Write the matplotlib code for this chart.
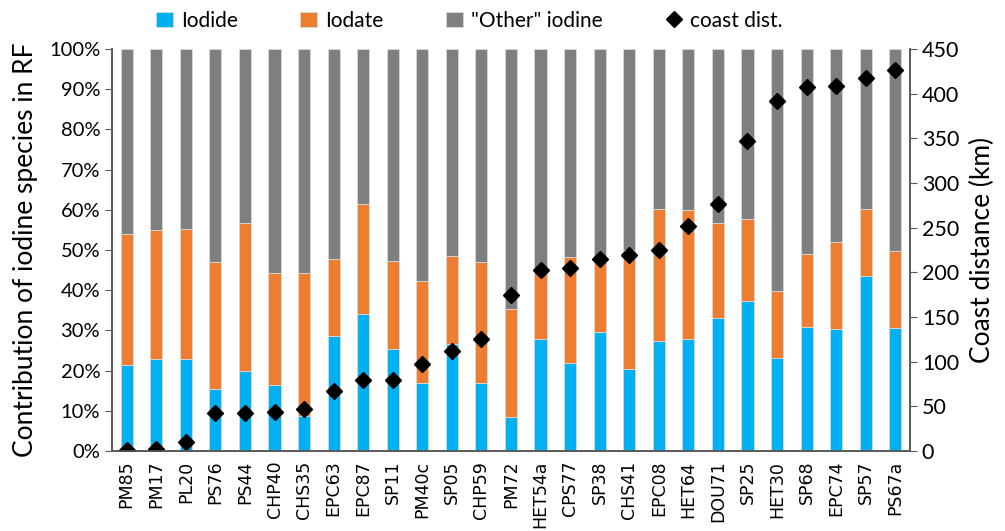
import numpy as np
import matplotlib.pyplot as plt
from matplotlib.ticker import PercentFormatter

stations = ["PM85", "PM17", "PL20", "PS76", "PS44", "CHP40", "CHS35", "EPC63", "EPC87",
            "SP11", "PM40c", "SP05", "CHP59", "PM72", "HET54a", "CPS77", "SP38", "CHS41",
            "EPC08", "HET64", "DOU71", "SP25", "HET30", "SP68", "EPC74", "SP57", "PS67a"]

# fractions in percent of RF iodine
iodide = [21.5, 23.0, 23.0, 15.5, 19.8, 16.3, 8.8, 28.5, 34.0,
          25.4, 16.8, 26.7, 16.8, 8.5, 27.9, 21.8, 29.6, 20.3,
          27.3, 27.8, 33.2, 37.4, 23.2, 30.9, 30.4, 43.6, 30.5]
iodate_top = [54.0, 55.0, 55.3, 47.0, 56.8, 44.3, 44.2, 47.8, 61.5,
              47.3, 42.3, 48.5, 47.1, 35.4, 44.7, 48.2, 47.5, 50.0,
              60.3, 60.0, 56.8, 57.8, 39.8, 49.1, 52.0, 60.1, 49.8]
coast_km = [1, 2, 10, 42, 43, 44, 47, 67, 80,
            80, 97, 112, 125, 175, 203, 205, 215, 219,
            225, 252, 277, 347, 392, 408, 409, 417, 427]

iodide = np.array(iodide)
iodate = np.array(iodate_top) - iodide
other = 100 - np.array(iodate_top)

x = np.arange(len(stations))
w = 0.41

fig = plt.figure(figsize=(10.05, 5.31), dpi=100)
ax = fig.add_axes([0.1114, 0.1507, 0.7941, 0.757])
font = "Lato"

b1 = ax.bar(x, iodide, w, color="#00B0F0", edgecolor="#d9d9d9", linewidth=0.6, label="Iodide")
b2 = ax.bar(x, iodate, w, bottom=iodide, color="#ED7D31", edgecolor="#d9d9d9", linewidth=0.6, label="Iodate")
b3 = ax.bar(x, other, w, bottom=iodide + iodate, color="#7F7F7F", edgecolor="#d9d9d9",
            linewidth=0.6, label='"Other" iodine')

ax.set_xlim(-0.5, len(stations) - 0.5)
ax.set_ylim(0, 100)
ax.set_yticks(np.arange(0, 101, 10))
ax.yaxis.set_major_formatter(PercentFormatter(decimals=0))
ax.set_xticks(x)
ax.set_xticklabels(stations, rotation=90, fontsize=12.5, family="DejaVu Sans")
ax.set_ylabel("Contribution of iodine species in RF", fontsize=19, family=font, labelpad=8)
ax.tick_params(axis="y", labelsize=14.5, direction="out", length=5, color="#595959")
ax.tick_params(axis="x", length=0, pad=7)
for lab in ax.get_yticklabels():
    lab.set_family(font)

ax2 = ax.twinx()
ln, = ax2.plot(x, coast_km, linestyle="none", marker="D", markersize=8.5, color="black",
               label="coast dist.")
ax2.set_ylim(0, 450)
ax2.set_yticks(np.arange(0, 451, 50))
ax2.set_ylabel("Coast distance (km)", fontsize=19, family=font, labelpad=8)
ax2.tick_params(axis="y", labelsize=15.5, direction="out", length=5, color="#595959")
for lab in ax2.get_yticklabels():
    lab.set_family(font)

for a in (ax, ax2):
    a.spines["top"].set_visible(False)
    for s in ("left", "right", "bottom"):
        a.spines[s].set_color("#595959")
        a.spines[s].set_linewidth(1.2)

fig.legend([b1, b2, b3, ln], ["Iodide", "Iodate", '"Other" iodine', "coast dist."],
           loc="upper center", bbox_to_anchor=(0.467, 1.015), ncol=4, frameon=False,
           prop={"family": font, "size": 15}, handlelength=0.8, handletextpad=0.4,
           columnspacing=3.0)

fig.savefig("out.png", dpi=100)
